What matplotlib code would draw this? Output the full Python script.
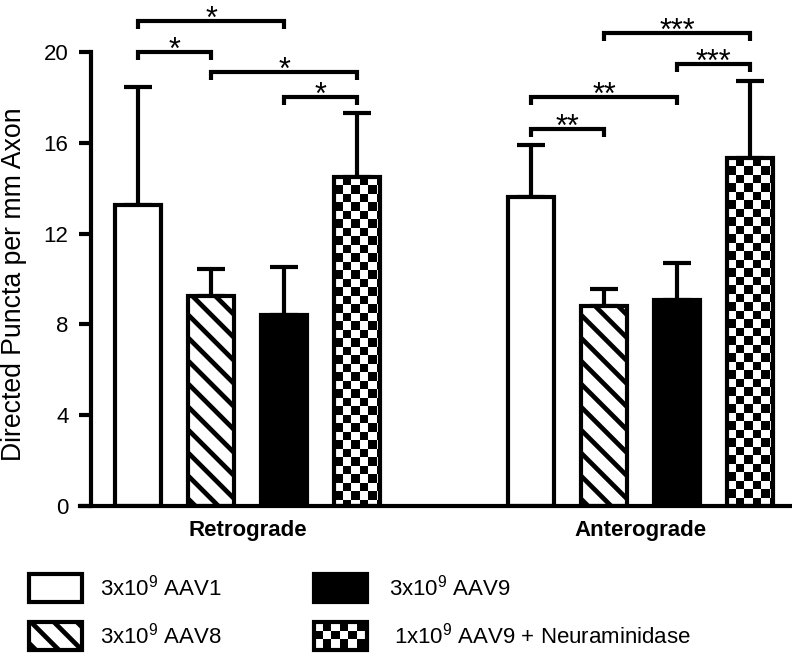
import numpy as np
import matplotlib
matplotlib.use('Agg')
import matplotlib.pyplot as plt
from matplotlib.patches import Rectangle
from matplotlib.collections import PatchCollection

plt.rcParams['font.family'] = ['Liberation Sans', 'DejaVu Sans']
plt.rcParams['mathtext.default'] = 'regular'

# data
groups = ['Retrograde', 'Anterograde']
treatments = ['3x10$^9$ AAV1', '3x10$^9$ AAV8', '3x10$^9$ AAV9',
              '1x10$^9$ AAV9 + Neuraminidase']
retro_mean = [13.26, 9.26, 8.41, 14.50]
retro_err = [5.18, 1.18, 2.13, 2.83]
antero_mean = [13.63, 8.82, 9.06, 15.34]
antero_err = [2.29, 0.75, 1.63, 3.40]
patterns = ['empty', 'stripes', 'solid', 'checker']

# significance brackets: (bar a, bar b, height, label), bars numbered 0..7
brackets = [(0, 2, 21.38, '*'), (0, 1, 20.01, '*'), (1, 3, 19.13, '*'),
            (2, 3, 18.0, '*'), (5, 7, 20.82, '***'), (6, 7, 19.47, '***'),
            (4, 6, 18.03, '**'), (4, 5, 16.62, '**')]

W, H = 792, 655
LW = 3.0


def add_stripes(ax, x0, y0, w, h, sx, sy, clip, spacing=23, lw=3.4):
    k = sx / sy
    step = spacing / sy
    for c in np.arange(y0 + step * 0.3, y0 + h + w * k + step, step):
        ln, = ax.plot([x0, x0 + w], [c, c - w * k], color='black', lw=lw,
                      solid_capstyle='butt', zorder=3)
        ln.set_clip_path(clip)


def add_checker(ax, x0, y0, w, h, sx, sy, clip, cell=8.5):
    cx, cy = cell / sx, cell / sy
    ncol = int(np.ceil(w / cx)) + 1
    nrow = int(np.ceil(h / cy)) + 1
    top = y0 + h
    rects = []
    for i in range(nrow):
        for j in range(ncol):
            if (i + j) % 2 == 1:
                rects.append(Rectangle((x0 + j * cx, top - (i + 1) * cy), cx, cy))
    pc = PatchCollection(rects, facecolor='black', edgecolor='none', zorder=3)
    ax.add_collection(pc)
    pc.set_clip_path(clip)


def draw_box(ax, x0, y0, w, h, kind, sx, sy, zorder=2):
    face = 'black' if kind == 'solid' else 'white'
    fill = Rectangle((x0, y0), w, h, facecolor=face, edgecolor='none', zorder=zorder)
    ax.add_patch(fill)
    if kind == 'stripes':
        add_stripes(ax, x0, y0, w, h, sx, sy, fill)
    elif kind == 'checker':
        add_checker(ax, x0, y0, w, h, sx, sy, fill)
    ax.add_patch(Rectangle((x0, y0), w, h, fill=False, edgecolor='black',
                           lw=LW, zorder=4, joinstyle='miter'))


fig = plt.figure(figsize=(W / 100, H / 100), dpi=100)
ax_l, ax_b, ax_w, ax_h = 80, 149, 710, 454
ax = fig.add_axes([ax_l / W, ax_b / H, ax_w / W, ax_h / H])

xlim = (-0.801, 8.925)
ylim = (0, 20)
sx = ax_w / (xlim[1] - xlim[0])
sy = ax_h / (ylim[1] - ylim[0])

group_offset = 5.38
bar_w = 0.63
xpos = np.concatenate([np.arange(4), np.arange(4) + group_offset])
means = retro_mean + antero_mean
errs = retro_err + antero_err
kinds = patterns + patterns

ax.errorbar(xpos, means, yerr=[np.zeros(8), errs], fmt='none', ecolor='black',
            elinewidth=LW, capsize=10, capthick=LW, zorder=1)
for x, m, kind in zip(xpos, means, kinds):
    draw_box(ax, x - bar_w / 2, 0, bar_w, m, kind, sx, sy)

drop = 8 / sy
for a, b, y, lab in brackets:
    ax.plot([xpos[a], xpos[a], xpos[b], xpos[b]], [y - drop, y, y, y - drop],
            color='black', lw=LW, clip_on=False, solid_joinstyle='miter',
            solid_capstyle='butt')
    ax.text((xpos[a] + xpos[b]) / 2, y - 7 / sy, lab, ha='center',
            va='baseline', fontsize=22, clip_on=False)

ax.set_xlim(*xlim)
ax.set_ylim(*ylim)
ax.spines['top'].set_visible(False)
ax.spines['right'].set_visible(False)
ax.spines['left'].set_position(('data', (91.5 - ax_l) / sx + xlim[0]))
ax.spines['left'].set_linewidth(LW)
ax.spines['bottom'].set_linewidth(LW)
ax.spines['left'].set_zorder(5)
ax.set_yticks(np.arange(0, 21, 4))
ax.tick_params(axis='y', direction='out', length=8.6, width=LW, labelsize=16, pad=8)
ax.set_xticks([np.mean(xpos[:4]), np.mean(xpos[4:])])
ax.set_xticklabels(groups, fontsize=16, fontweight='bold')
ax.tick_params(axis='x', length=0, pad=10)

fig.text(14 / W, (H - 284.5) / H, 'Directed Puncta per mm Axon', rotation=90,
         ha='center', va='center', fontsize=19.2)

# legend drawn in pixel coordinates
lax = fig.add_axes([0, 0, 1, 1])
lax.set_xlim(0, W)
lax.set_ylim(0, H)
lax.set_axis_off()
box_x = [29, 29, 314, 314]
box_y = [H - 602, H - 650, H - 602, H - 650]
text_x = [100, 100, 389, 394]
for i, kind in enumerate(patterns):
    draw_box(lax, box_x[i], box_y[i], 53, 28, kind, 1, 1)
    lax.text(text_x[i], box_y[i] + 14, treatments[i], ha='left', va='center',
             fontsize=16)

fig.savefig('out.png', dpi=100)
